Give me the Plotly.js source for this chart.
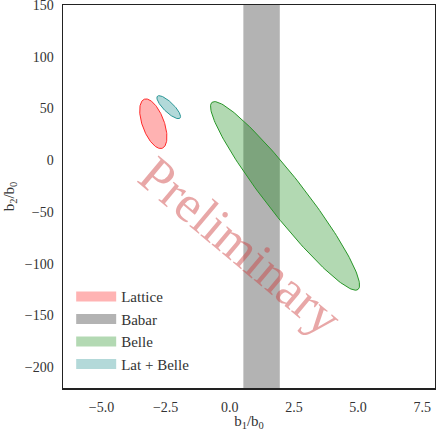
<!DOCTYPE html>
<html>
<head>
<meta charset="utf-8">
<script src="https://cdn.plot.ly/plotly-3.0.1.min.js"></script>
<style>html,body{margin:0;padding:0;background:#fff;}</style>
</head>
<body>
<div id="chart" style="width:436px;height:431px;"></div>
<script>
// ---- data ----
const seriesNames = ["Lattice", "Babar", "Belle", "Lat + Belle"];
// Babar allowed band in b1/b0
const babarBand = [0.53, 1.95];
// ellipses: centre (b1/b0, b2/b0), major half-axis vector, minor half-axis vector (data units)
const latticeCenter = [-2.98, 35.3];
const latticeMajor = [-0.35, 23.7];
const latticeMinor = [0.40, 3.6];
const belleCenter = [2.155, -34.4];
const belleMajor = [2.845, -90.4];
const belleMinor = [0.586, 11.3];
const latBelleCenter = [-2.38, 51.3];
const latBelleMajor = [0.44, -10.6];
const latBelleMinor = [0.137, 3.45];
const xTicks = [-5, -2.5, 0, 2.5, 5, 7.5];
const yTicks = [-200, -150, -100, -50, 0, 50, 100, 150];
const xRange = [-6.5, 8.0];
const yRange = [-220, 150];

function ellipse(c, u, v) {
  const xs = [], ys = [];
  const n = 180;
  for (let i = 0; i <= n; i++) {
    const t = 2 * Math.PI * i / n;
    xs.push(c[0] + u[0] * Math.cos(t) + v[0] * Math.sin(t));
    ys.push(c[1] + u[1] * Math.cos(t) + v[1] * Math.sin(t));
  }
  return {x: xs, y: ys};
}

const fills = ["rgba(255,0,0,0.3)", "rgba(128,128,128,0.6)", "rgba(0,128,0,0.3)", "rgba(0,128,128,0.3)"];
const legendCols = ["rgb(255,179,179)", "rgb(179,179,179)", "rgb(179,217,179)", "rgb(179,217,217)"];
const edges = ["rgb(255,40,40)", "rgba(0,0,0,0)", "rgb(40,150,40)", "rgb(40,150,150)"];

const eL = ellipse(latticeCenter, latticeMajor, latticeMinor);
const eB = ellipse(belleCenter, belleMajor, belleMinor);
const eLB = ellipse(latBelleCenter, latBelleMajor, latBelleMinor);

const traces = [
  {x: [babarBand[0], babarBand[1], babarBand[1], babarBand[0], babarBand[0]],
   y: [yRange[0], yRange[0], yRange[1], yRange[1], yRange[0]],
   type: "scatter", mode: "lines", fill: "toself", fillcolor: fills[1],
   line: {width: 0, color: edges[1]}, showlegend: false, hoverinfo: "skip"},
  {x: eL.x, y: eL.y, type: "scatter", mode: "lines", fill: "toself", fillcolor: fills[0],
   line: {width: 1, color: edges[0]}, showlegend: false, hoverinfo: "skip"},
  {x: eB.x, y: eB.y, type: "scatter", mode: "lines", fill: "toself", fillcolor: fills[2],
   line: {width: 1, color: edges[2]}, showlegend: false, hoverinfo: "skip"},
  {x: eLB.x, y: eLB.y, type: "scatter", mode: "lines", fill: "toself", fillcolor: fills[3],
   line: {width: 1, color: edges[3]}, showlegend: false, hoverinfo: "skip"}
];
// legend-only entries
seriesNames.forEach((name, i) => {
  traces.push({x: [null], y: [null], type: "scatter", mode: "lines",
    line: {width: 10, color: legendCols[i]}, name: name, showlegend: true});
});

const FAM = "Liberation Serif";
const TXT = "#333";

const layout = {
  width: 436, height: 431,
  margin: {l: 63, r: 1, t: 5, b: 43},
  paper_bgcolor: "#fff", plot_bgcolor: "#fff",
  font: {family: FAM, size: 14, color: TXT},
  showlegend: true,
  legend: {x: 0.022, y: 0.02, xanchor: "left", yanchor: "bottom",
    bgcolor: "rgba(255,255,255,0)", font: {family: FAM, size: 15, color: TXT},
    itemwidth: 40},
  xaxis: {range: xRange, tickvals: xTicks, tickformat: ".1f", showgrid: false, zeroline: false,
    showline: true, mirror: true, linecolor: "#222", linewidth: 1.5,
    ticks: "outside", ticklen: 6, tickcolor: "rgba(0,0,0,0)",
    tickfont: {family: FAM, size: 14, color: TXT}, ticklabeloverflow: "allow",
    title: {text: "b<sub>1</sub>/b<sub>0</sub>", font: {family: FAM, size: 15, color: TXT}, standoff: 4}},
  yaxis: {range: yRange, tickvals: yTicks, showgrid: false, zeroline: false,
    showline: true, mirror: true, linecolor: "#222", linewidth: 1.5,
    ticks: "outside", ticklen: 5, tickcolor: "rgba(0,0,0,0)",
    tickfont: {family: FAM, size: 14, color: TXT}, ticklabeloverflow: "allow",
    title: {text: "b<sub>2</sub>/b<sub>0</sub>", font: {family: FAM, size: 15, color: TXT}, standoff: 6}},
  annotations: [{
    text: "Preliminary", x: 0.45, y: -83, xref: "x", yref: "y",
    showarrow: false, textangle: 40,
    font: {family: FAM, size: 52, color: "rgba(205,60,60,0.45)"}
  }]
};

Plotly.newPlot("chart", traces, layout, {staticPlot: true, displayModeBar: false});
</script>
</body>
</html>
